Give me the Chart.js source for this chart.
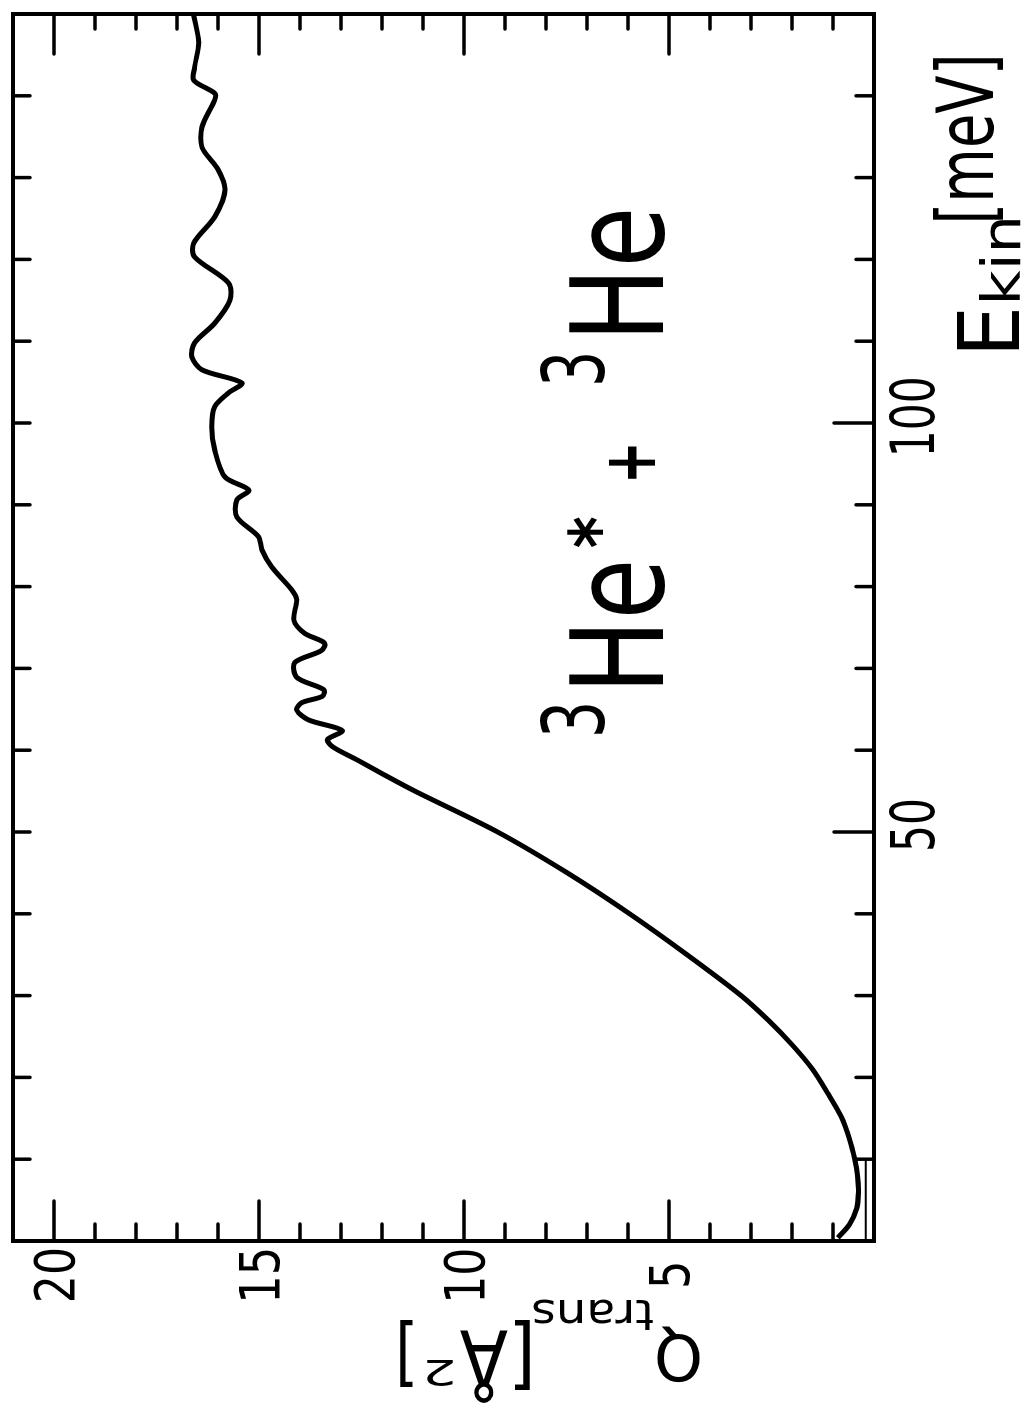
<!DOCTYPE html>
<html>
<head>
<meta charset="utf-8">
<title>3He* + 3He transport cross section</title>
<script src="https://cdn.jsdelivr.net/npm/chart.js@4.4.1/dist/chart.umd.min.js"></script>
<style>
    html, body { margin: 0; padding: 0; background: #fff; overflow: hidden; }
    #page { position: relative; width: 1021px; height: 1412px; overflow: hidden; background: #fff; }
    /* the plot is laid out landscape and turned a quarter turn */
    #wrap {
        position: absolute; left: 0; top: 0;
        width: 1412px; height: 1021px;
        transform-origin: 0 0;
        transform: translate(0px, 1412px) rotate(-90deg);
    }
</style>
</head>
<body>
<div id="page"><div id="wrap"><canvas id="chart" width="1412" height="1021"></canvas></div></div>
<script>
// ================= DATA =================
// kinetic energy [meV]
const energy = [0.4, 2, 4, 6, 8, 10, 12.5, 15.2, 18, 21, 24, 27, 30,
    35, 40, 45, 50, 55, 57, 58.8, 60.4, 61.3, 62.4, 63.7, 64.9,
    65.8, 66.6, 67.4, 68.9, 70.7, 72.2, 73.1, 74.3, 75.9, 78.4, 79.6, 82.4, 84.5, 86.1,
    88.5, 90.6, 91.8, 93.4, 96.7, 99.5, 102.0, 103.7, 104.9, 106.5, 108.1, 109.8, 112.2, 115.0,
    117.1, 120.3, 122.0, 125.2, 128.5, 131.0, 133.7, 136.2, 139.5, 140.3, 141.9, 143.5, 146.5, 149.8];

// transport cross section Q_trans [A^2]
const crossSection = [0.88, 0.6, 0.42, 0.38, 0.4, 0.47, 0.6, 0.8, 1.12, 1.5, 2.0, 2.58, 3.24,
    4.56, 5.96, 7.48, 9.18, 11.2, 11.95, 12.6, 13.2, 13.33, 12.97, 13.79, 14.08,
    13.96, 13.45, 13.42, 14.08, 14.13, 13.47, 13.4, 13.89, 14.15, 14.08, 14.2, 14.69, 14.93, 15.01,
    15.54, 15.54, 15.25, 15.83, 16.08, 16.15, 16.08, 15.74, 15.42, 16.39, 16.64, 16.57, 16.08, 15.71,
    15.74, 16.57, 16.59, 16.08, 15.83, 16.0, 16.39, 16.39, 16.08, 16.08, 16.59, 16.57, 16.47, 16.59];

const eTicks = [10, 20, 30, 40, 50, 60, 70, 80, 90, 100, 110, 120, 130, 140];
const eTickLabels = [50, 100];
const qTicks = [1, 2, 3, 4, 5, 6, 7, 8, 9, 10, 11, 12, 13, 14, 15, 16, 17, 18, 19, 20];
const qTickLabels = [5, 10, 15, 20];

const FAMILY = "'DejaVu Sans', 'Liberation Sans', sans-serif";

// ================= TEXT HELPERS =================
// squeeze a string so its ink fills the box (x0,y0)-(x1,y1)
function fitText(c, text, x0, y0, x1, y1, weight) {
    c.font = (weight || "normal") + " 100px " + FAMILY;
    c.textAlign = "left";
    c.textBaseline = "alphabetic";
    const m = c.measureText(text);
    const w = m.actualBoundingBoxLeft + m.actualBoundingBoxRight;
    const h = m.actualBoundingBoxAscent + m.actualBoundingBoxDescent;
    const sx = (x1 - x0) / w, sy = (y1 - y0) / h;
    c.save();
    c.translate(x0 + m.actualBoundingBoxLeft * sx, y0 + m.actualBoundingBoxAscent * sy);
    c.scale(sx, sy);
    c.fillText(text, 0, 0);
    c.restore();
}

// centred label of given ink height, narrowed by squeeze
function tickLabel(c, text, cx, cy, h, squeeze) {
    c.font = "100px " + FAMILY;
    const m = c.measureText(text);
    const w = m.actualBoundingBoxLeft + m.actualBoundingBoxRight;
    const ih = m.actualBoundingBoxAscent + m.actualBoundingBoxDescent;
    const sy = h / ih, sx = sy * squeeze;
    fitText(c, text, cx - w * sx / 2, cy - h / 2, cx + w * sx / 2, cy + h / 2);
}

// ================= FRAME, TICKS, LABELS =================
const framePlugin = {
    id: "frameTicks",
    afterDraw(chart) {
        const c = chart.ctx, a = chart.chartArea;
        const xs = chart.scales.x, ys = chart.scales.y;
        c.save();
        c.strokeStyle = "#000";
        c.fillStyle = "#000";
        c.lineCap = "round";

        c.lineWidth = 4;
        c.strokeRect(a.left, a.top, a.right - a.left, a.bottom - a.top);

        c.lineWidth = 3.5;
        c.beginPath();
        eTicks.forEach(e => {
            const x = xs.getPixelForValue(e);
            const len = eTickLabels.includes(e) ? 40 : 18;
            c.moveTo(x, a.bottom); c.lineTo(x, a.bottom - len);
            c.moveTo(x, a.top); c.lineTo(x, a.top + 17);
        });
        qTicks.forEach(q => {
            const y = ys.getPixelForValue(q);
            const major = qTickLabels.includes(q);
            c.moveTo(a.left, y); c.lineTo(a.left + (major ? 40 : 17), y);
            c.moveTo(a.right, y); c.lineTo(a.right - (major ? 40 : 15), y);
        });
        c.stroke();

        // low energy cut-off marker
        c.lineWidth = 2;
        c.beginPath();
        c.moveTo(xs.getPixelForValue(0), ys.getPixelForValue(0.2));
        c.lineTo(xs.getPixelForValue(10), ys.getPixelForValue(0.2));
        c.stroke();

        // tick labels
        qTickLabels.forEach(q => tickLabel(c, String(q), 137, ys.getPixelForValue(q), 42, 0.8));
        eTickLabels.forEach(e => tickLabel(c, String(e), xs.getPixelForValue(e) + 7, 912, 46, 0.7));

        // x title: E_kin [meV]
        fitText(c, "E", 1062, 956, 1101, 1019);
        fitText(c, "kin", 1112, 980, 1192, 1020);
        fitText(c, "[meV]", 1192, 933, 1354, 1003);

        // reaction label
        fitText(c, "3", 678, 540, 707, 605);
        fitText(c, "He", 727, 569, 849, 664);
        fitText(c, "*", 865, 567, 895, 603, "bold");
        fitText(c, "+", 933, 609, 966, 655, "bold");
        fitText(c, "3", 1029, 540, 1057, 605);
        fitText(c, "He", 1079, 569, 1201, 664);

        // y title, running upwards
        c.save();
        c.translate(0, 1021);
        c.rotate(-Math.PI / 2);
        fitText(c, "Q", 321, 29, 364, 85);
        fitText(c, "trans", 368, 82, 488, 112);
        fitText(c, "[Å", 491, 9, 561, 92);
        fitText(c, "2", 568, 25, 594, 52);
        fitText(c, "]", 608, 25, 621, 92);
        c.restore();

        c.restore();
    }
};

// ================= CHART =================
const points = energy.map((e, i) => ({ x: e, y: crossSection[i] }));

new Chart(document.getElementById("chart"), {
    type: "line",
    data: {
        datasets: [{
            data: points,
            borderColor: "#000",
            borderWidth: 5,
            pointRadius: 0,
            tension: 0.3,
            fill: false
        }]
    },
    options: {
        responsive: false,
        animation: false,
        events: [],
        layout: { padding: { left: 171, right: 14, top: 13, bottom: 147 } },
        plugins: { legend: { display: false }, tooltip: { enabled: false } },
        scales: {
            x: { type: "linear", min: 0, max: 150, display: false },
            y: { type: "linear", min: 0, max: 21, display: false }
        }
    },
    plugins: [framePlugin]
});
</script>
</body>
</html>
